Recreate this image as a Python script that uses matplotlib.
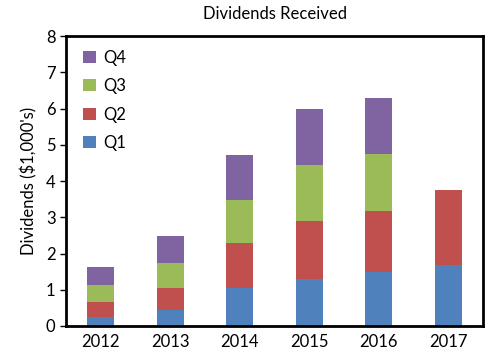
import matplotlib
matplotlib.use("Agg")
import matplotlib.pyplot as plt
import numpy as np

plt.rcParams['font.family'] = ['Lato', 'DejaVu Sans']

years = ['2012', '2013', '2014', '2015', '2016', '2017']
q1 = [0.26, 0.45, 1.06, 1.30, 1.50, 1.67]
q2 = [0.41, 0.61, 1.22, 1.60, 1.68, 2.08]
q3 = [0.47, 0.68, 1.20, 1.54, 1.57, 0.0]
q4 = [0.49, 0.75, 1.24, 1.54, 1.54, 0.0]

series = [('Q1', q1, '#4F81BD'), ('Q2', q2, '#C0504D'),
          ('Q3', q3, '#9BBB59'), ('Q4', q4, '#8064A2')]

fig = plt.figure(figsize=(4.9, 3.64), dpi=100)
ax = fig.add_axes([66 / 490, 1 - 326 / 364, 417 / 490, 290 / 364])

x = np.arange(len(years))
bottom = np.zeros(len(years))
handles = []
for name, vals, color in series:
    vals = np.array(vals)
    h = ax.bar(x, vals, 0.39, bottom=bottom, color=color, label=name)
    handles.append(h)
    bottom += vals

ax.set_xlim(-0.5, len(years) - 0.5)
ax.set_ylim(0, 8)
ax.set_yticks(range(0, 9))
ax.set_xticks(x)
ax.set_xticklabels(years)
ax.tick_params(axis='x', length=0, labelsize=12, pad=6)
ax.tick_params(axis='y', length=4, width=1, labelsize=12, direction='out')
for s in ax.spines.values():
    s.set_linewidth(2)
    s.set_color('black')

ax.set_ylabel("Dividends (\\$1,000's)", fontsize=12, labelpad=6)
ax.set_title('Dividends Received', fontsize=12, pad=12)

ax.legend(handles[::-1], [s[0] for s in series][::-1], loc='upper left',
          frameon=False, fontsize=12, handlelength=0.75, handleheight=0.75,
          handletextpad=0.45, labelspacing=0.75, bbox_to_anchor=(0.005, 1.005))

fig.savefig('out.png', dpi=100)
